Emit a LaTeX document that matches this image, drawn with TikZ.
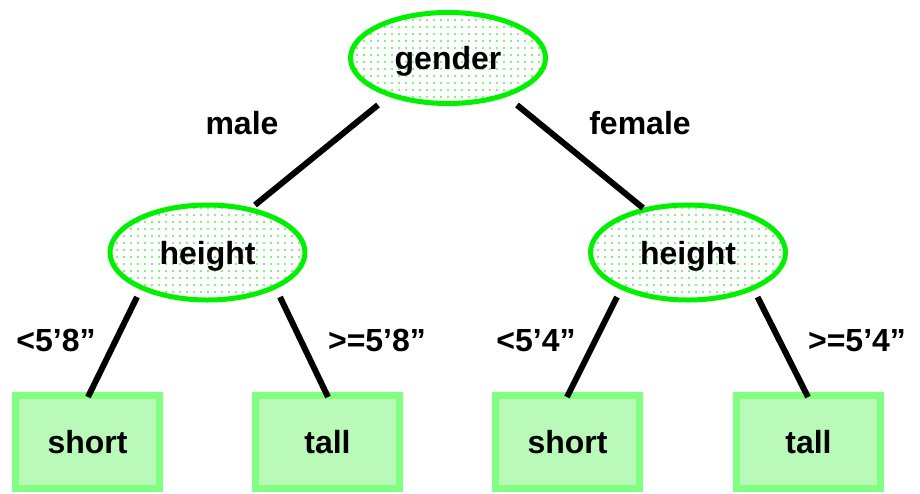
\documentclass[tikz,border=0pt]{standalone}
\usepackage{fontspec}
\setmainfont{Liberation Sans}
\usetikzlibrary{shapes.geometric,calc,patterns.meta}
\definecolor{ellline}{RGB}{0,240,0}
\definecolor{boxline}{RGB}{128,255,128}
\definecolor{boxfill}{RGB}{185,250,185}
\definecolor{dotgreen}{RGB}{0,235,0}
\tikzset{
  txt/.style={font=\fontsize{32}{36}\selectfont\bfseries, text depth=0pt},
  ellnode/.style={txt, ellipse, draw=ellline, line width=5pt, fill=white,
    postaction={pattern={Dots[distance=6.5pt, radius=1pt]}, pattern color=dotgreen},
    minimum width=195pt, inner sep=0pt},
  leafbox/.style={txt, rectangle, draw=boxline, line width=7pt, fill=boxfill,
    minimum width=144pt, minimum height=93pt, inner sep=0pt},
  edge/.style={line width=6pt, black},
  lbl/.style={txt, inner sep=0pt}
}
\begin{document}
\begin{tikzpicture}[x=1pt,y=-1pt]
\useasboundingbox (0,0) rectangle (920,493);
\fill[white] (0,0) rectangle (920,493);
% nodes
\node[ellnode, minimum height=91pt] (root) at (448,58) {gender};
\node[ellnode, minimum height=95pt] (lh) at (207.5,252.5) {height};
\node[ellnode, minimum height=95pt] (rh) at (688,252.5) {height};
\node[leafbox] (s1) at (87.5,442) {short};
\node[leafbox] (t1) at (327.5,442) {tall};
\node[leafbox] (s2) at (567.5,442) {short};
\node[leafbox] (t2) at (808.5,442) {tall};
% connectors
\draw[edge] ($(root.center)+(-70,47)$) -- ($(lh.center)+(47.5,-47.5)$);
\draw[edge] ($(root.center)+(69,47)$) -- ($(rh.center)+(-45,-44.5)$);
\draw[edge] ($(lh.center)+(-70.5,44.5)$) -- ($(s1.center)+(0.5,-45)$);
\draw[edge] ($(lh.center)+(72.5,44.5)$) -- ($(t1.center)+(0.5,-45)$);
\draw[edge] ($(rh.center)+(-71,44.5)$) -- ($(s2.center)+(-0.5,-45)$);
\draw[edge] ($(rh.center)+(69.5,44.5)$) -- ($(t2.center)+(-0.5,-45)$);
% labels
\node[lbl] (lmale) at (242,123) {male};
\node[lbl] (lfemale) at (640,123) {female};
\node[lbl] (l1) at (56,340) {<5’8”};
\node[lbl] (l2) at (377,340) {>=5’8”};
\node[lbl] (l3) at (536,340) {<5’4”};
\node[lbl] (l4) at (857,340) {>=5’4”};
\end{tikzpicture}
\end{document}
